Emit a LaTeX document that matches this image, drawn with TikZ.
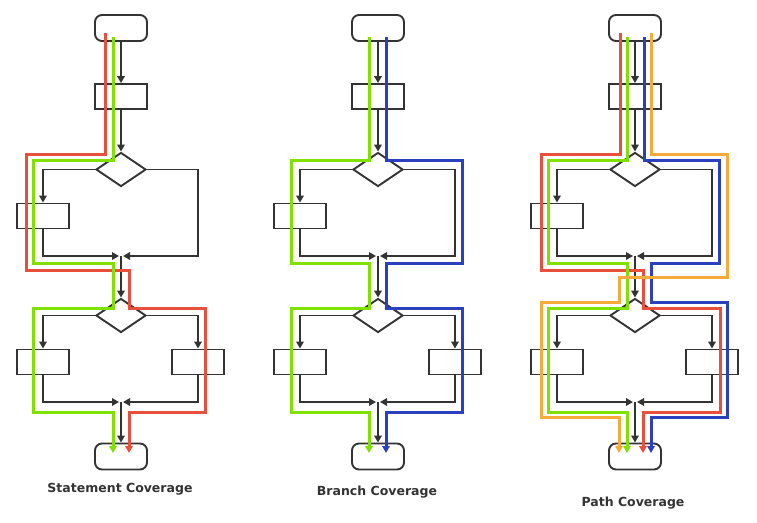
\documentclass[tikz,border=0pt]{standalone}
\usepackage{fontspec}
\setmainfont{DejaVu Sans}
\usetikzlibrary{shapes.geometric,arrows.meta}
\definecolor{ink}{HTML}{333333}
\definecolor{cred}{HTML}{E8503C}
\definecolor{cgreen}{HTML}{80E000}
\definecolor{cblue}{HTML}{2A40BE}
\definecolor{corange}{HTML}{F5AA3A}
\newcommand\flowcol[2]{%
\begin{scope}[xshift=#2pt]
  \node[term] (#1s) at (0,28) {};
  \node[proc] (#1p) at (0,96.5) {};
  \node[dec]  (#1d) at (0,169.5) {};
  \node[proc] (#1a) at (-78,216) {};
  \coordinate (#1m)  at (0,256);
  \coordinate (#1ml) at (-2,256);
  \coordinate (#1mr) at (2,256);
  \coordinate (#1rc) at (77,256);
  \node[dec]  (#1e) at (0,315.5) {};
  \node[proc] (#1b) at (-78,362) {};
  \node[proc] (#1c) at (77,362) {};
  \coordinate (#1n)  at (0,402);
  \coordinate (#1nl) at (-2,402);
  \coordinate (#1nr) at (2,402);
  \node[term] (#1t) at (0,456.5) {};
  \draw[flow] (#1s) -- (#1p);
  \draw[flow] (#1p) -- (#1d);
  \draw[flow] (#1d.west) -| (#1a.north);
  \draw[flow] (#1d.east) -| (#1rc) -- (#1mr);
  \draw[flow] (#1a.south) |- (#1ml);
  \draw[flow] (#1m) -- (#1e.north);
  \draw[flow] (#1e.west) -| (#1b.north);
  \draw[flow] (#1e.east) -| (#1c.north);
  \draw[flow] (#1b.south) |- (#1nl);
  \draw[flow] (#1c.south) |- (#1nr);
  \draw[flow] (#1n) -- (#1t.north);
\end{scope}}
\begin{document}
\begin{tikzpicture}[x=1pt,y=-1pt,
  flow/.style={draw=ink,line width=1.9pt,-{Triangle[length=7pt,width=7.5pt]}},
  term/.style={draw=ink,line width=1.9pt,rounded corners=7pt,minimum width=52pt,minimum height=26pt,inner sep=0pt,fill=white},
  proc/.style={draw=ink,line width=1.9pt,minimum width=52pt,minimum height=25pt,inner sep=0pt,fill=white},
  dec/.style={draw=ink,line width=1.9pt,diamond,minimum width=50pt,minimum height=34pt,inner sep=0pt,fill=white},
  trace/.style={line width=3pt,-{Triangle[length=7pt,width=7.5pt]}},
  title/.style={font=\bfseries\fontsize{12.5}{14}\selectfont,text=ink}]
\fill[white] (0,0) rectangle (757,522);
\useasboundingbox (0,0) rectangle (757,522);
\flowcol{a}{121}
\flowcol{b}{378}
\flowcol{c}{635}
% Statement coverage
\begin{scope}[xshift=121pt]
  \draw[trace,cred] (-16,33) -- (-16,154) -- (-95,154) -- (-95,270) -- (8,270) -- (8,308) -- (84,308) -- (84,412) -- (8,412) -- (8,453);
  \draw[trace,cgreen] (-8,37) -- (-8,160) -- (-88,160) -- (-88,263) -- (-8,263) -- (-8,308) -- (-88,308) -- (-88,412) -- (-8,412) -- (-8,453);
\end{scope}
% Branch coverage
\begin{scope}[xshift=378pt]
  \draw[trace,cgreen] (-9,37) -- (-9,160) -- (-87,160) -- (-87,263) -- (-9,263) -- (-9,308) -- (-87,308) -- (-87,412) -- (-9,412) -- (-9,453);
  \draw[trace,cblue] (8,37) -- (8,160) -- (84,160) -- (84,263) -- (8,263) -- (8,308) -- (84,308) -- (84,412) -- (8,412) -- (8,453);
\end{scope}
% Path coverage
\begin{scope}[xshift=635pt]
  \draw[trace,cred] (-15,33) -- (-15,154) -- (-94,154) -- (-94,270) -- (8,270) -- (8,308) -- (85,308) -- (85,412) -- (8,412) -- (8,453);
  \draw[trace,cgreen] (-8,37) -- (-8,160) -- (-87,160) -- (-87,263) -- (-8,263) -- (-8,308) -- (-87,308) -- (-87,412) -- (-8,412) -- (-8,453);
  \draw[trace,cblue] (9,37) -- (9,160) -- (84,160) -- (84,263) -- (16,263) -- (16,302) -- (92,302) -- (92,417) -- (16,417) -- (16,453);
  \draw[trace,corange] (16,33) -- (16,154) -- (92,154) -- (92,277) -- (-16,277) -- (-16,302) -- (-94,302) -- (-94,417) -- (-16,417) -- (-16,453);
\end{scope}
\node[title] (l1) at (120,489) {Statement Coverage};
\node[title] (l2) at (377,492) {Branch Coverage};
\node[title] (l3) at (633,503) {Path Coverage};
\end{tikzpicture}
\end{document}
